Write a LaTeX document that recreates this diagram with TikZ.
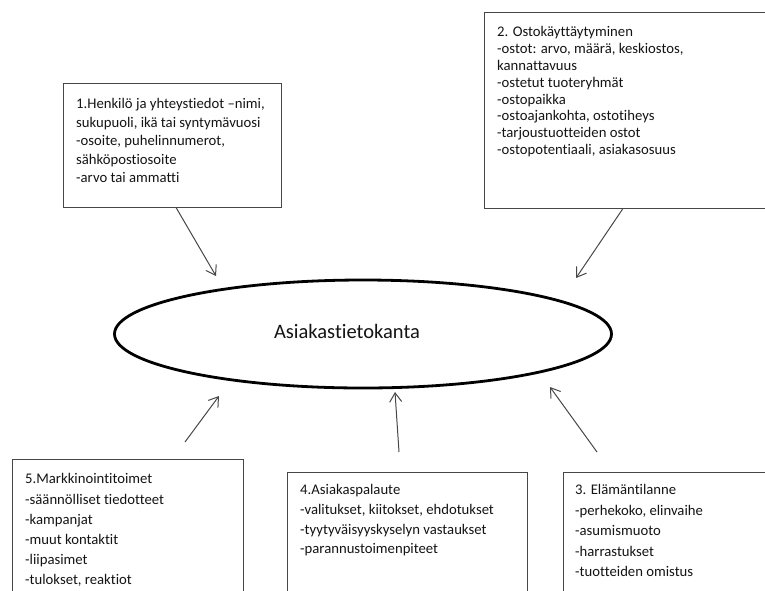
\documentclass[tikz,border=0pt]{standalone}
\usepackage{fontspec}
\setmainfont{Carlito}[Ligatures={NoCommon}]
\usetikzlibrary{shapes.geometric,arrows.meta}
\begin{document}
\begin{tikzpicture}[x=1pt,y=-1pt,
  box/.style={draw=black!72, line width=0.9pt, rectangle, inner sep=0pt},
  txt/.style={anchor=north west, inner sep=0pt, align=left, text=black!92},
  arr/.style={draw=black!72, line width=1pt, -{Straight Barb[length=9pt,width=12pt]}}]
\useasboundingbox (0,0) rectangle (765,590);
\clip (0,0) rectangle (765,590);
% boxes
\node[box, minimum width=218pt, minimum height=124pt] (b1) at (172,145) {};
\node[box, minimum width=336pt, minimum height=196pt] (b2) at (652,110) {};
\node[box, minimum width=231pt, minimum height=181pt] (b5) at (127.5,549.5) {};
\node[box, minimum width=240pt, minimum height=168pt] (b4) at (407,556) {};
\node[box, minimum width=257pt, minimum height=168pt] (b3) at (691.5,556) {};
% texts
\node[txt, font=\fontsize{14.7}{18.6}\selectfont] (t1) at (76,98) {1.Henkilö ja yhteystiedot –nimi,\\sukupuoli, ikä tai syntymävuosi\\-osoite, puhelinnumerot,\\sähköpostiosoite\\-arvo tai ammatti};
\node[txt, font=\fontsize{14.7}{16.8}\selectfont] (t2) at (497,26.5) {2. Ostokäyttäytyminen\\-ostot: arvo, määrä, keskiostos,\\kannattavuus\\-ostetut tuoteryhmät\\-ostopaikka\\-ostoajankohta, ostotiheys\\-tarjoustuotteiden ostot\\-ostopotentiaali, asiakasosuus};
\node[txt, font=\fontsize{14.7}{20.2}\selectfont] (t5) at (25,473.5) {5.Markkinointitoimet\\-säännölliset tiedotteet\\-kampanjat\\-muut kontaktit\\-liipasimet\\-tulokset, reaktiot};
\node[txt, font=\fontsize{14.7}{19.8}\selectfont] (t4) at (300,484) {4.Asiakaspalaute\\-valitukset, kiitokset, ehdotukset\\-tyytyväisyyskyselyn vastaukset\\-parannustoimenpiteet};
\node[txt, font=\fontsize{14.7}{20.4}\selectfont] (t3) at (575,484.5) {3. Elämäntilanne\\-perhekoko, elinvaihe\\-asumismuoto\\-harrastukset\\-tuotteiden omistus};
% central ellipse
\node[ellipse, draw=black, line width=2.8pt, minimum width=497pt, minimum height=108pt, inner sep=0pt] (db) at (363,334) {};
\node[inner sep=0pt, font=\fontsize{20.5}{23}\selectfont, text=black!92] (dbl) at (347,331) {Asiakastietokanta};
% arrow ends
\coordinate (e1) at (216,276);
\coordinate (e2) at (576,278);
\coordinate (s5) at (185,442);
\coordinate (e5) at (219,396);
\coordinate (s4) at (399,452);
\coordinate (e4) at (395,392);
\coordinate (s3) at (597,452);
\coordinate (e3) at (550,387);
% arrows
\draw[arr] ([xshift=4pt]b1.south) -- (e1);
\draw[arr] ([xshift=-29pt]b2.south) -- (e2);
\draw[arr] (s5) -- (e5);
\draw[arr] (s4) -- (e4);
\draw[arr] (s3) -- (e3);
\end{tikzpicture}
\end{document}
